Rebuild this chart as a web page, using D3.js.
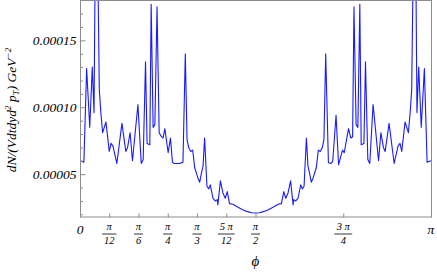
<!DOCTYPE html>
<html>
<head>
<meta charset="utf-8">
<script src="https://cdn.jsdelivr.net/npm/d3@7/dist/d3.min.js"></script>
<style>
  body { margin: 0; background: #fff; }
  text { font-family: "Liberation Serif", "Times New Roman", serif; font-style: italic; fill: #000; }
</style>
</head>
<body>
<svg id="chart" width="437" height="272"></svg>
<script>
// azimuthal angle (degrees) and the spectrum dN/(V dt dy d^2 pT) in GeV^-2
const phiDeg = [
  0.0, 2.0, 3.4, 5.0, 6.3, 7.2, 7.8, 8.4, 9.1, 9.9, 10.7, 11.6, 13.3, 15.0, 15.9, 16.9, 18.9,
  21.5, 23.5, 24.4, 25.7, 26.9, 29.7, 31.4, 32.4, 33.6, 34.4, 35.8, 36.5, 37.5, 38.4, 39.5,
  40.6, 41.8, 42.6, 43.5, 45.2, 46.4, 47.4, 48.1, 51.1, 52.8, 54.0, 54.9, 55.7, 56.8, 57.8,
  58.8, 60.5, 61.4, 62.3, 63.1, 63.9, 65.1, 66.0, 66.8, 68.2, 69.4, 70.4, 70.7, 72.0, 73.3,
  74.5, 75.5, 76.7, 78.4, 80.8, 83.4, 85.9, 88.0, 90.0,
  92.0, 94.1, 96.6, 99.2, 101.6, 103.3, 104.5, 105.5, 106.7, 108.0, 109.3, 109.6, 110.6,
  111.8, 113.2, 114.0, 114.9, 116.1, 116.9, 117.7, 118.6, 119.5, 121.2, 122.2, 123.2, 124.3,
  125.1, 126.0, 127.4, 128.7, 129.6, 131.3, 132.6, 134.6, 135.5, 137.7, 138.9, 139.8, 140.5,
  141.6, 142.5, 143.5, 144.2, 145.6, 146.4, 147.6, 148.6, 150.3, 153.1, 154.3, 155.6, 156.5,
  158.5, 161.1, 163.1, 164.1, 165.0, 166.7, 168.4, 169.3, 170.1, 170.9, 171.6, 172.2, 172.8,
  173.7, 175.0, 176.6, 178.0, 180.0
]
const dNdpt = [
  6.0e-5, 5.9e-5, 12.9e-5, 8.5e-5, 13.0e-5, 9.6e-5, 21e-5, 19e-5, 21e-5, 11.3e-5, 9.6e-5, 8.1e-5, 8.9e-5, 6.7e-5, 7.3e-5, 7.1e-5, 5.8e-5,
  8.8e-5, 6.7e-5, 7.0e-5, 8.1e-5, 6.0e-5, 10.2e-5, 5.8e-5, 6.1e-5, 13.4e-5, 7.3e-5, 7.2e-5, 17.7e-5, 8.5e-5, 8.7e-5, 17.5e-5,
  8.1e-5, 7.8e-5, 7.7e-5, 8.4e-5, 6.6e-5, 7.7e-5, 5.9e-5, 5.8e-5, 5.8e-5, 5.9e-5, 14.0e-5, 7.6e-5, 7.0e-5, 6.7e-5, 6.8e-5,
  5.5e-5, 4.7e-5, 4.4e-5, 5.1e-5, 5.6e-5, 7.7e-5, 4.1e-5, 3.9e-5, 4.2e-5, 3.2e-5, 3.0e-5, 3.1e-5, 2.7e-5, 4.5e-5, 3.6e-5,
  3.2e-5, 3.7e-5, 2.8e-5, 2.75e-5, 2.55e-5, 2.35e-5, 2.2e-5, 2.12e-5, 2.1e-5,
  2.12e-5, 2.2e-5, 2.35e-5, 2.55e-5, 2.75e-5, 2.8e-5, 3.7e-5, 3.2e-5, 3.6e-5, 4.5e-5, 2.7e-5, 3.1e-5, 3.0e-5,
  3.2e-5, 4.2e-5, 3.9e-5, 4.1e-5, 7.7e-5, 5.6e-5, 5.1e-5, 4.4e-5, 4.7e-5, 5.5e-5, 6.8e-5, 6.7e-5, 7.0e-5,
  7.6e-5, 14.0e-5, 5.85e-5, 5.8e-5, 5.95e-5, 9.4e-5, 5.7e-5, 6.8e-5, 6.6e-5, 8.4e-5, 7.7e-5, 7.8e-5, 17.5e-5,
  8.7e-5, 8.5e-5, 17.7e-5, 7.2e-5, 7.3e-5, 13.4e-5, 6.1e-5, 5.8e-5, 10.2e-5, 6.0e-5, 8.1e-5, 7.0e-5, 6.7e-5,
  8.8e-5, 5.8e-5, 7.1e-5, 7.3e-5, 6.7e-5, 8.9e-5, 8.1e-5, 9.6e-5, 11.3e-5, 21e-5, 19e-5, 21e-5, 9.6e-5,
  13.0e-5, 8.5e-5, 12.9e-5, 5.9e-5, 6.0e-5
]

const yTickValues = [0.00005, 0.0001, 0.00015]
const yTickLabels = ["0.00005", "0.00010", "0.00015"]
const yMinorValues = d3.range(2, 18).map(d => d * 1e-5)

const xTickDeg = [0, 15, 30, 45, 60, 75, 90, 135, 180]
const xTickNum = ["0", "π", "π", "π", "π", "5 π", "π", "3 π", "π"]
const xTickDen = ["", "12", "6", "4", "3", "12", "2", "4", ""]

const svg = d3.select("#chart")

const plotLeft = 80, plotRight = 431, plotTop = 1, plotBottom = 217

const x = d3.scaleLinear().domain([0, 180]).range([plotLeft, plotRight])
const y = d3.scaleLinear().domain([1.8e-5, 1.794e-4]).range([plotBottom, plotTop])

// clip so the spikes get cut off at the frame
svg.append("clipPath").attr("id", "clip")
  .append("rect")
    .attr("x", plotLeft).attr("y", plotTop)
    .attr("width", plotRight - plotLeft).attr("height", plotBottom - plotTop)

const data = phiDeg.map((p, i) => ({phi: p, v: dNdpt[i]}))

const line = d3.line()
  .x(d => x(d.phi))
  .y(d => y(d.v))

svg.append("path")
  .datum(data)
  .attr("clip-path", "url(#clip)")
  .attr("fill", "none")
  .attr("stroke", "#1a1aff")
  .attr("stroke-width", 1.1)
  .attr("stroke-linejoin", "round")
  .attr("d", line)

// frame
svg.append("rect")
  .attr("x", plotLeft + 0.5).attr("y", plotTop - 0.5)
  .attr("width", plotRight - plotLeft).attr("height", plotBottom - plotTop + 0.5)
  .attr("fill", "none")
  .attr("stroke", "#8c8c8c")
  .attr("stroke-width", 1)

// y axis, ticks pointing into the plot
const yAxis = svg.append("g")
  .attr("transform", `translate(${plotLeft + 0.5},0)`)
  .call(d3.axisLeft(y)
    .tickValues(yTickValues)
    .tickFormat((d, i) => yTickLabels[i])
    .tickSize(-5)
    .tickPadding(4))
yAxis.select(".domain").remove()
yAxis.selectAll("line").attr("stroke", "#8c8c8c")
yAxis.selectAll("text")
  .style("font-size", "13.5px")
  .attr("font-family", null)

const yMinor = svg.append("g")
  .attr("transform", `translate(${plotLeft + 0.5},0)`)
  .call(d3.axisLeft(y).tickValues(yMinorValues.filter(v => !yTickValues.some(t => Math.abs(t - v) < 1e-9))).tickFormat("").tickSize(-2.5))
yMinor.select(".domain").remove()
yMinor.selectAll("line").attr("stroke", "#8c8c8c")

// x axis ticks
const xAxis = svg.append("g")
  .attr("transform", `translate(0,${plotBottom + 0.5})`)
  .call(d3.axisBottom(x).tickValues(xTickDeg).tickFormat("").tickSize(-4))
xAxis.select(".domain").remove()
xAxis.selectAll("line").attr("stroke", "#8c8c8c")

// x tick labels, written as fractions of pi
xTickDeg.forEach((deg, i) => {
  const cx = x(deg)
  if (xTickDen[i] === "") {
    svg.append("text")
      .attr("x", cx).attr("y", 234)
      .attr("text-anchor", "middle")
      .style("font-size", "13.5px")
      .text(xTickNum[i])
    return
  }
  const num = svg.append("text")
    .attr("x", cx).attr("y", 230)
    .attr("text-anchor", "middle")
    .style("font-size", "10.5px")
    .text(xTickNum[i])
  const den = svg.append("text")
    .attr("x", cx).attr("y", 244)
    .attr("text-anchor", "middle")
    .style("font-size", "10.5px")
    .text(xTickDen[i])
  const w = Math.max(num.node().getBBox().width, den.node().getBBox().width) + 3
  svg.append("line")
    .attr("x1", cx - w / 2).attr("x2", cx + w / 2)
    .attr("y1", 234).attr("y2", 234)
    .attr("stroke", "#000").attr("stroke-width", 0.8)
})

// axis titles
svg.append("text")
  .attr("x", x(90)).attr("y", 266)
  .attr("text-anchor", "middle")
  .style("font-size", "15px")
  .text("ϕ")

const yTitle = svg.append("text")
  .attr("transform", "translate(16,110) rotate(-90)")
  .attr("text-anchor", "middle")
  .style("font-size", "13.5px")
yTitle.append("tspan").text("dN/(Vdtdyd")
yTitle.append("tspan").attr("dy", -5).style("font-size", "9px").text("2")
yTitle.append("tspan").attr("dy", 5).text(" p")
yTitle.append("tspan").attr("dy", 3).style("font-size", "9px").text("T")
yTitle.append("tspan").attr("dy", -3).text(") GeV")
yTitle.append("tspan").attr("dy", -5).style("font-size", "9px").text("−2")
</script>
</body>
</html>
